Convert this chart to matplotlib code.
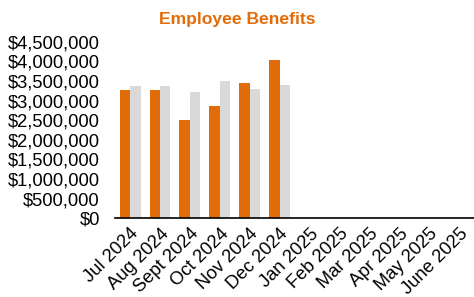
import matplotlib
matplotlib.use('Agg')

from matplotlib import pyplot as plt
from matplotlib.ticker import FuncFormatter
import numpy as np

months = ["Jul 2024", "Aug 2024", "Sept 2024", "Oct 2024", "Nov 2024", "Dec 2024",
          "Jan 2025", "Feb 2025", "Mar 2025", "Apr 2025", "May 2025", "June 2025"]
actual = [3280000, 3260000, 2500000, 2870000, 3440000, 4040000]
budget = [3370000, 3370000, 3210000, 3500000, 3290000, 3390000]

plt.rcParams['font.family'] = ['Liberation Sans', 'DejaVu Sans']

fig = plt.figure(figsize=(4.74, 2.97), dpi=100)
ax = fig.add_axes([0.243, 0.265, 0.757, 0.594])

x = np.arange(len(months))
w = 0.35
ax.bar(x[:len(actual)] - w / 2, actual, w, color='#E36C0A')
ax.bar(x[:len(budget)] + w / 2, budget, w, color='#D9D9D9')

ax.set_xlim(-0.5, len(months) - 0.5)
ax.set_ylim(0, 4500000)
ax.set_yticks(np.arange(0, 4500001, 500000))
ax.yaxis.set_major_formatter(FuncFormatter(lambda v, p: f"${v:,.0f}"))
ax.set_xticks(x)
ax.set_xticklabels(months, rotation=45, ha='right', rotation_mode='anchor')
ax.tick_params(axis='both', length=0, labelsize=13.2)
ax.tick_params(axis='y', pad=11)
ax.tick_params(axis='x', pad=5)

for s in ['top', 'right', 'left']:
    ax.spines[s].set_visible(False)
ax.spines['bottom'].set_color('black')
ax.spines['bottom'].set_linewidth(1.2)

fig.text(0.5, 0.933, "Employee Benefits", ha='center', va='center',
         color='#E36C0A', fontsize=12.6, fontweight='bold')

fig.savefig("out.png", dpi=100)
